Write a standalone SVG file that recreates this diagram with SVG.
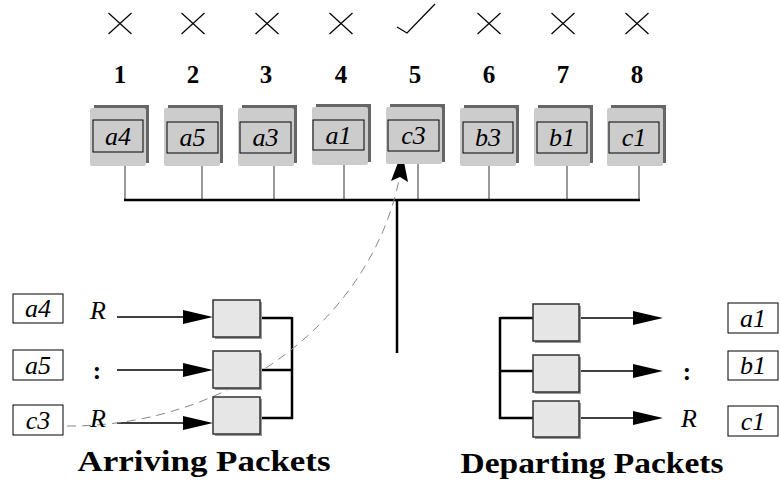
<svg xmlns="http://www.w3.org/2000/svg" width="780" height="485" viewBox="0 0 780 485">
<style>
.shadow{fill:#666}
.blk{fill:#cccccc}
.inner{fill:#cccccc;stroke:#000;stroke-width:1}
.lbl{font-family:"Liberation Serif",serif;font-style:italic;font-size:26px;text-anchor:middle;fill:#000}
.num{font-family:"Liberation Serif",serif;font-weight:bold;font-size:25px;text-anchor:middle;fill:#000}
.title{font-family:"Liberation Serif",serif;font-weight:bold;font-size:30px;text-anchor:middle;fill:#000}
.mark{stroke:#000;stroke-width:1.2;fill:none}
.drop{stroke:#555;stroke-width:1.2}
.thick{stroke:#000;stroke-width:2.5;fill:none}
.thin{stroke:#000;stroke-width:1.3;fill:none}
.q{fill:#e6e6e6;stroke:#333;stroke-width:1.5}
.qs{fill:#999}
.pkt{fill:#fff;stroke:#000;stroke-width:1}
.head{fill:#000}
</style>
<g id="marks">
<path class="mark" d="M108.5 13 L131.5 34 M131.5 13 L108.5 34"/>
<path class="mark" d="M181.5 13 L204.5 34 M204.5 13 L181.5 34"/>
<path class="mark" d="M255.5 13 L278.5 34 M278.5 13 L255.5 34"/>
<path class="mark" d="M329.5 13 L352.5 34 M352.5 13 L329.5 34"/>
<polyline class="mark" points="397,27 407,33 435,4"/>
<path class="mark" d="M477.5 13 L500.5 34 M500.5 13 L477.5 34"/>
<path class="mark" d="M551.5 13 L574.5 34 M574.5 13 L551.5 34"/>
<path class="mark" d="M625.5 13 L648.5 34 M648.5 13 L625.5 34"/>
</g>
<g id="numbers">
<text class="num" x="120" y="83">1</text>
<text class="num" x="193" y="83">2</text>
<text class="num" x="266" y="83">3</text>
<text class="num" x="341" y="83">4</text>
<text class="num" x="415" y="83">5</text>
<text class="num" x="489" y="83">6</text>
<text class="num" x="563" y="83">7</text>
<text class="num" x="637" y="83">8</text>
</g>
<g id="connectors">
<line class="drop" x1="125" y1="166" x2="125" y2="200"/>
<line class="drop" x1="202" y1="166" x2="202" y2="200"/>
<line class="drop" x1="274" y1="166" x2="274" y2="200"/>
<line class="drop" x1="344" y1="165" x2="344" y2="200"/>
<line class="drop" x1="418" y1="164" x2="418" y2="200"/>
<line class="drop" x1="489" y1="166" x2="489" y2="200"/>
<line class="drop" x1="567" y1="166" x2="567" y2="200"/>
<line class="drop" x1="639" y1="166" x2="639" y2="200"/>
<line class="thick" x1="124" y1="200" x2="640" y2="200"/>
<line class="thick" x1="397" y1="200" x2="397" y2="353"/>
<path d="M260 318 H292 M260 370 H292 M260 418 H292 M292 317 V419.2" class="thick"/>
<path d="M533 318 H500 M533 371 H500 M533 418 H500 M500 317 V419.2" class="thick"/>
<line class="thin" x1="117" y1="317" x2="190" y2="317"/>
<line class="thin" x1="117" y1="370" x2="190" y2="370"/>
<line class="thin" x1="117" y1="423" x2="190" y2="423"/>
<polygon class="head" points="213,317 183,310 183,324"/>
<polygon class="head" points="213,370 183,363 183,377"/>
<polygon class="head" points="213,423 183,416 183,430"/>
<line class="thin" x1="579" y1="318" x2="640" y2="318"/>
<line class="thin" x1="579" y1="371" x2="640" y2="371"/>
<line class="thin" x1="579" y1="418" x2="640" y2="418"/>
<polygon class="head" points="663,318 633,311 633,325"/>
<polygon class="head" points="663,371 633,364 633,378"/>
<polygon class="head" points="663,418 633,411 633,425"/>
<path d="M67 426 C230 427 370 320 399 180" fill="none" stroke="#888" stroke-width="1" stroke-dasharray="9 6"/>
<polygon class="head" points="402,152 391,181 400,177 408,182"/>
</g>
<g id="slots">
<g id="slot1"><rect class="shadow" x="94" y="105" width="55" height="58"/><rect class="blk" x="90" y="108" width="56" height="58" rx="2"/><rect class="inner" x="93" y="120" width="50" height="32"/><text class="lbl" x="118" y="145">a4</text></g>
<g id="slot2"><rect class="shadow" x="168" y="105" width="55" height="58"/><rect class="blk" x="164" y="108" width="56" height="58" rx="2"/><rect class="inner" x="167" y="122" width="51" height="31"/><text class="lbl" x="192.5" y="146">a5</text></g>
<g id="slot3"><rect class="shadow" x="242" y="105" width="55" height="58"/><rect class="blk" x="238" y="108" width="56" height="58" rx="2"/><rect class="inner" x="240" y="122" width="51" height="31"/><text class="lbl" x="265.5" y="146">a3</text></g>
<g id="slot4"><rect class="shadow" x="316" y="104" width="55" height="58"/><rect class="blk" x="312" y="107" width="56" height="58" rx="2"/><rect class="inner" x="313" y="120" width="51" height="30"/><text class="lbl" x="338.5" y="144">a1</text></g>
<g id="slot5"><rect class="shadow" x="390" y="104" width="55" height="58"/><rect class="blk" x="386" y="107" width="56" height="57" rx="2"/><rect class="inner" x="388" y="120" width="51" height="31"/><text class="lbl" x="413.5" y="144">c3</text></g>
<g id="slot6"><rect class="shadow" x="464" y="105" width="55" height="58"/><rect class="blk" x="460" y="108" width="56" height="58" rx="2"/><rect class="inner" x="463" y="122" width="50" height="31"/><text class="lbl" x="488" y="146">b3</text></g>
<g id="slot7"><rect class="shadow" x="538" y="105" width="55" height="58"/><rect class="blk" x="534" y="108" width="56" height="58" rx="2"/><rect class="inner" x="537" y="122" width="50" height="31"/><text class="lbl" x="562" y="146">b1</text></g>
<g id="slot8"><rect class="shadow" x="611" y="105" width="55" height="58"/><rect class="blk" x="607" y="108" width="56" height="58" rx="2"/><rect class="inner" x="609" y="122" width="50" height="31"/><text class="lbl" x="634" y="146">c1</text></g>
</g>
<g id="arriving">
<g id="in-a4"><rect class="pkt" x="13" y="294" width="50" height="29"/><text class="lbl" x="38" y="317">a4</text></g>
<g id="in-a5"><rect class="pkt" x="13" y="350" width="50" height="30"/><text class="lbl" x="38" y="374">a5</text></g>
<g id="in-c3"><rect class="pkt" x="13" y="405" width="50" height="30"/><text class="lbl" x="38" y="429">c3</text></g>
<text class="lbl" x="98" y="319" font-size="27">R</text>
<text class="num" x="97" y="379" font-size="28">:</text>
<text class="lbl" x="98" y="427" font-size="27">R</text>
<g id="inq1"><rect class="qs" x="215" y="302" width="47" height="37"/><rect class="q" x="213" y="300" width="47" height="37"/></g>
<g id="inq2"><rect class="qs" x="215" y="353" width="47" height="37"/><rect class="q" x="213" y="351" width="47" height="37"/></g>
<g id="inq3"><rect class="qs" x="215" y="399" width="47" height="37"/><rect class="q" x="213" y="397" width="47" height="37"/></g>
<text class="title" x="204" y="471" textLength="253" lengthAdjust="spacingAndGlyphs">Arriving Packets</text>
</g>
<g id="departing">
<g id="outq1"><rect class="qs" x="535" y="306" width="46" height="37"/><rect class="q" x="533" y="304" width="46" height="37"/></g>
<g id="outq2"><rect class="qs" x="535" y="357" width="46" height="37"/><rect class="q" x="533" y="355" width="46" height="37"/></g>
<g id="outq3"><rect class="qs" x="535" y="403" width="46" height="36"/><rect class="q" x="533" y="401" width="46" height="36"/></g>
<text class="num" x="687" y="380" font-size="28">:</text>
<text class="lbl" x="689" y="427" font-size="27">R</text>
<g id="out-a1"><rect class="pkt" x="728" y="303" width="50" height="30"/><text class="lbl" x="753" y="327">a1</text></g>
<g id="out-b1"><rect class="pkt" x="728" y="351" width="50" height="29"/><text class="lbl" x="753" y="374">b1</text></g>
<g id="out-c1"><rect class="pkt" x="728" y="406" width="50" height="30"/><text class="lbl" x="753" y="430">c1</text></g>
<text class="title" x="592" y="473" textLength="263" lengthAdjust="spacingAndGlyphs">Departing Packets</text>
</g>
</svg>
